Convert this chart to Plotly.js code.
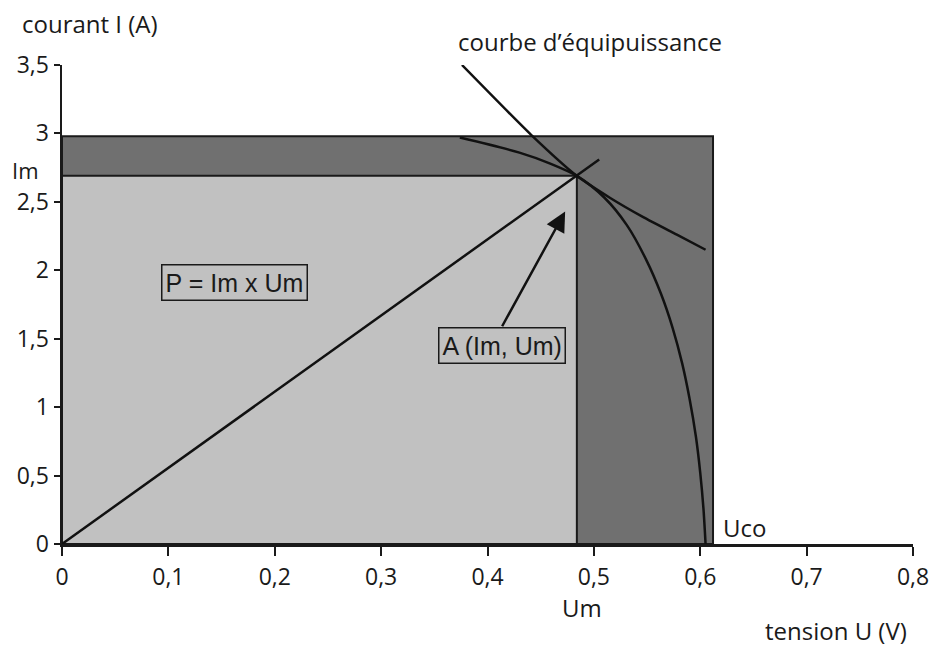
<!DOCTYPE html>
<html><head><meta charset="utf-8">
<script src="https://cdn.plot.ly/plotly-3.0.1.min.js"></script>
<style>html,body{margin:0;padding:0;background:#fff}</style>
</head><body><div id="chart" style="width:934px;height:646px"></div>
<script>
// Key values
const Um = 0.484, Im = 2.69;      // maximum power point A
const Uco = 0.612, Isc = 2.98;    // outer rectangle
// I(U) characteristic
const ivU = [0.374, 0.430, 0.459, 0.484, 0.510, 0.531, 0.549, 0.563, 0.574, 0.583, 0.590, 0.596, 0.600, 0.603, 0.605];
const ivI = [2.97, 2.86, 2.78, 2.69, 2.53, 2.33, 2.08, 1.83, 1.58, 1.32, 1.06, 0.78, 0.52, 0.26, 0.0];
// courbe d'équipuissance
const isoU = [0.376, 0.441, 0.484, 0.515, 0.546, 0.578, 0.605];
const isoI = [3.50, 2.99, 2.69, 2.53, 2.39, 2.26, 2.15];
// load line through origin and A
const loadU = [0, 0.505];
const loadI = [0, 2.81];
// axis ticks
const xTickVals = [0, 0.1, 0.2, 0.3, 0.4, 0.5, 0.6, 0.7, 0.8];
const xTickText = ['0', '0,1', '0,2', '0,3', '0,4', '0,5', '0,6', '0,7', '0,8'];
const yTickVals = [0, 0.5, 1, 1.5, 2, 2.5, 3, 3.5];
const yTickText = ['0', '0,5', '1', '1,5', '2', '2,5', '3', '3,5'];

const FONT = 'Open Sans, Liberation Sans, sans-serif';
const ARIAL = 'Liberation Sans, Arial, sans-serif';
const DARK = 'rgb(112,112,112)', LIGHT = 'rgb(193,193,193)';
const INK = '#1a1a1a';

const traces = [
  {x: [0, Uco, Uco, 0, 0], y: [0, 0, Isc, Isc, 0], mode: 'lines', fill: 'toself',
   fillcolor: DARK, line: {color: INK, width: 2}, hoverinfo: 'skip'},
  {x: [0, Um, Um, 0, 0], y: [0, 0, Im, Im, 0], mode: 'lines', fill: 'toself',
   fillcolor: LIGHT, line: {color: INK, width: 2}, hoverinfo: 'skip'},
  {x: loadU, y: loadI, mode: 'lines', line: {color: '#111', width: 2.5}},
  {x: isoU, y: isoI, mode: 'lines', line: {color: '#111', width: 2.5, shape: 'spline', smoothing: 0.6}},
  {x: ivU, y: ivI, mode: 'lines', line: {color: '#111', width: 2.5, shape: 'spline', smoothing: 0.8}}
];

const px = v => (v - 62) / 851;
const py = v => (544 - v) / 479;

const layout = {
  width: 934, height: 646,
  margin: {l: 62, r: 21, t: 65, b: 102},
  paper_bgcolor: '#fff', plot_bgcolor: 'rgba(0,0,0,0)',
  showlegend: false,
  font: {family: FONT, size: 23, color: INK},
  xaxis: {range: [0, 0.8], tickvals: xTickVals, ticktext: xTickText,
    showgrid: false, zeroline: false, showline: true, linecolor: INK, linewidth: 2.5,
    ticks: 'outside', ticklen: 9, tickwidth: 2, tickcolor: INK,
    ticklabelstandoff: 2, tickfont: {family: FONT, size: 23, color: INK}},
  yaxis: {range: [0, 3.5], tickvals: yTickVals, ticktext: yTickText,
    showgrid: false, zeroline: false, showline: true, linecolor: INK, linewidth: 2.5,
    ticks: 'outside', ticklen: 6, tickwidth: 2, tickcolor: INK,
    ticklabelstandoff: 0, tickfont: {family: FONT, size: 23, color: INK}},
  annotations: [
    {xref: 'paper', yref: 'paper', x: px(20), y: py(23), xanchor: 'left', yanchor: 'middle',
     text: 'courant I (A)', showarrow: false, font: {family: FONT, size: 24}},
    {xref: 'paper', yref: 'paper', x: px(456), y: py(42), xanchor: 'left', yanchor: 'middle',
     text: 'courbe d’équipuissance', showarrow: false, font: {family: FONT, size: 24}},
    {xref: 'paper', yref: 'paper', x: px(10), y: py(170), xanchor: 'left', yanchor: 'middle',
     text: 'Im', showarrow: false, font: {family: FONT, size: 22}},
    {xref: 'paper', yref: 'paper', x: px(582), y: py(607), xanchor: 'center', yanchor: 'middle',
     text: 'Um', showarrow: false, font: {family: FONT, size: 24}},
    {xref: 'paper', yref: 'paper', x: px(721), y: py(527), xanchor: 'left', yanchor: 'middle',
     text: 'Uco', showarrow: false, font: {family: FONT, size: 24}},
    {xref: 'paper', yref: 'paper', x: px(763), y: py(630), xanchor: 'left', yanchor: 'middle',
     text: 'tension U (V)', showarrow: false, font: {family: FONT, size: 24}},
    {x: 0.162, y: 1.91, xref: 'x', yref: 'y', text: 'P = Im x Um', showarrow: false,
     font: {family: ARIAL, size: 25, color: INK}, bordercolor: INK, borderwidth: 1.5,
     borderpad: 3, bgcolor: LIGHT},
    {x: 0.473, y: 2.43, ax: 0.413, ay: 1.58, xref: 'x', yref: 'y', axref: 'x', ayref: 'y',
     text: '', showarrow: true, arrowhead: 2, arrowsize: 1.6, arrowwidth: 2.5, arrowcolor: '#111'},
    {x: 0.414, y: 1.45, xref: 'x', yref: 'y', text: 'A (Im, Um)', showarrow: false,
     font: {family: ARIAL, size: 25, color: INK}, bordercolor: INK, borderwidth: 1.5,
     borderpad: 3, bgcolor: LIGHT}
  ]
};

Plotly.newPlot('chart', traces, layout, {displayModeBar: false, staticPlot: true});
</script>
</body></html>
